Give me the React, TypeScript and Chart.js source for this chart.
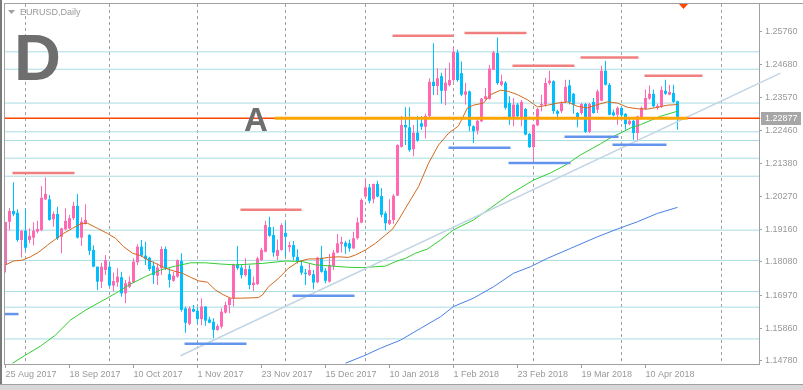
import React, { useEffect, useRef } from 'react';
import { Chart, registerables } from 'chart.js';

Chart.register(...registerables);

// ---------- data (EURUSD daily, bar index 0 = 25 Aug 2017) ----------
const OPEN = [
  1.1798, 1.1942, 1.1978, 1.1972, 1.1881, 1.1912, 1.1881, 1.1889, 1.1909, 1.1914,
  1.2017, 1.2017, 1.1950, 1.1968, 1.1892, 1.1917, 1.1920, 1.1954, 1.1995, 1.1889,
  1.1935, 1.1898, 1.1848, 1.1792, 1.1742, 1.1781, 1.1792, 1.1729, 1.1740, 1.1757,
  1.1703, 1.1725, 1.1740, 1.1807, 1.1859, 1.1829, 1.1822, 1.1795, 1.1762, 1.1787,
  1.1851, 1.1767, 1.1745, 1.1759, 1.1811, 1.1653, 1.1601, 1.1651, 1.1645, 1.1617,
  1.1659, 1.1616, 1.1608, 1.1581, 1.1592, 1.1639, 1.1664, 1.1687, 1.1800, 1.1789,
  1.1764, 1.1784, 1.1731, 1.1734, 1.1814, 1.1842, 1.1924, 1.1898, 1.1828, 1.1848,
  1.1905, 1.1857, 1.1864, 1.1825, 1.1795, 1.1772, 1.1764, 1.1767, 1.1740, 1.1822,
  1.1779, 1.1742, 1.1794, 1.1839, 1.1868, 1.1872, 1.1870, 1.1853, 1.1887, 1.1939,
  1.2026, 1.2057, 1.2017, 1.2068, 1.2028, 1.1970, 1.1935, 1.1948, 1.2029, 1.2192,
  1.2265, 1.2257, 1.2184, 1.2239, 1.2271, 1.2259, 1.2295, 1.2409, 1.2395, 1.2428,
  1.2379, 1.2398, 1.2415, 1.2507, 1.2438, 1.2366, 1.2377, 1.2261, 1.2246, 1.2277,
  1.2352, 1.2352, 1.2449, 1.2505, 1.2399, 1.2406, 1.2338, 1.2291, 1.2333, 1.2286,
  1.2318, 1.2235, 1.2191, 1.2264, 1.2331, 1.2333, 1.2405, 1.2411, 1.2311, 1.2311,
  1.2342, 1.2397, 1.2369, 1.2305, 1.2305, 1.2335, 1.2242, 1.2342, 1.2316, 1.2346,
  1.2446, 1.2399, 1.2307, 1.2299, 1.2322, 1.2302, 1.2268, 1.2279, 1.2238, 1.2288,
  1.2318, 1.2353, 1.2369, 1.2322, 1.2327, 1.2379, 1.2366, 1.2372, 1.2344,
];
const HIGH = [
  1.1942, 1.1987, 1.2074, 1.1984, 1.1914, 1.1984, 1.1920, 1.1940, 1.1945, 1.2061,
  1.2090, 1.2031, 1.1976, 1.1992, 1.1922, 1.1987, 1.1965, 1.2009, 1.2035, 1.1956,
  1.2000, 1.1900, 1.1864, 1.1793, 1.1804, 1.1831, 1.1809, 1.1773, 1.1787, 1.1775,
  1.1748, 1.1759, 1.1820, 1.1867, 1.1881, 1.1875, 1.1825, 1.1809, 1.1803, 1.1859,
  1.1859, 1.1787, 1.1775, 1.1816, 1.1837, 1.1659, 1.1659, 1.1664, 1.1657, 1.1687,
  1.1660, 1.1625, 1.1620, 1.1600, 1.1653, 1.1675, 1.1689, 1.1802, 1.1861, 1.1800,
  1.1820, 1.1798, 1.1759, 1.1825, 1.1855, 1.1945, 1.1959, 1.1925, 1.1883, 1.1937,
  1.1942, 1.1875, 1.1878, 1.1850, 1.1814, 1.1784, 1.1803, 1.1781, 1.1825, 1.1861,
  1.1787, 1.1834, 1.1848, 1.1901, 1.1892, 1.1879, 1.1883, 1.1909, 1.1956, 1.2020,
  1.2084, 1.2068, 1.2070, 1.2079, 1.2054, 1.1976, 1.2017, 1.2034, 1.2201, 1.2295,
  1.2324, 1.2324, 1.2265, 1.2295, 1.2295, 1.2302, 1.2421, 1.2538, 1.2454, 1.2439,
  1.2454, 1.2473, 1.2526, 1.2517, 1.2477, 1.2405, 1.2380, 1.2263, 1.2288, 1.2355,
  1.2388, 1.2466, 1.2513, 1.2557, 1.2433, 1.2411, 1.2361, 1.2355, 1.2338, 1.2349,
  1.2322, 1.2238, 1.2268, 1.2322, 1.2366, 1.2422, 1.2446, 1.2414, 1.2316, 1.2344,
  1.2416, 1.2416, 1.2372, 1.2308, 1.2338, 1.2338, 1.2338, 1.2355, 1.2383, 1.2463,
  1.2479, 1.2405, 1.2316, 1.2327, 1.2327, 1.2305, 1.2288, 1.2283, 1.2296, 1.2327,
  1.2383, 1.2397, 1.2383, 1.2335, 1.2394, 1.2416, 1.2399, 1.2399, 1.2346,
];
const LOW = [
  1.1773, 1.1914, 1.1960, 1.1875, 1.1822, 1.1845, 1.1870, 1.1864, 1.1904, 1.1910,
  1.2015, 1.1945, 1.1925, 1.1881, 1.1837, 1.1914, 1.1918, 1.1948, 1.1886, 1.1861,
  1.1933, 1.1831, 1.1790, 1.1714, 1.1721, 1.1764, 1.1725, 1.1709, 1.1725, 1.1692,
  1.1670, 1.1720, 1.1737, 1.1798, 1.1825, 1.1798, 1.1778, 1.1734, 1.1731, 1.1764,
  1.1781, 1.1723, 1.1742, 1.1755, 1.1642, 1.1572, 1.1597, 1.1640, 1.1601, 1.1597,
  1.1595, 1.1603, 1.1553, 1.1578, 1.1586, 1.1636, 1.1637, 1.1659, 1.1781, 1.1753,
  1.1759, 1.1717, 1.1712, 1.1731, 1.1812, 1.1840, 1.1892, 1.1825, 1.1814, 1.1845,
  1.1825, 1.1842, 1.1814, 1.1803, 1.1764, 1.1731, 1.1761, 1.1717, 1.1737, 1.1772,
  1.1737, 1.1739, 1.1781, 1.1837, 1.1839, 1.1834, 1.1842, 1.1851, 1.1883, 1.1937,
  1.2020, 1.2004, 1.2004, 1.2024, 1.1957, 1.1914, 1.1931, 1.1935, 1.2028, 1.2190,
  1.2198, 1.2176, 1.2161, 1.2209, 1.2248, 1.2220, 1.2287, 1.2365, 1.2365, 1.2337,
  1.2332, 1.2393, 1.2409, 1.2409, 1.2361, 1.2333, 1.2244, 1.2205, 1.2233, 1.2275,
  1.2349, 1.2349, 1.2448, 1.2399, 1.2394, 1.2317, 1.2266, 1.2261, 1.2288, 1.2261,
  1.2231, 1.2188, 1.2144, 1.2261, 1.2311, 1.2327, 1.2399, 1.2302, 1.2283, 1.2305,
  1.2338, 1.2333, 1.2302, 1.2257, 1.2299, 1.2238, 1.2238, 1.2302, 1.2305, 1.2344,
  1.2397, 1.2297, 1.2294, 1.2266, 1.2288, 1.2249, 1.2264, 1.2216, 1.2210, 1.2283,
  1.2316, 1.2349, 1.2324, 1.2316, 1.2322, 1.2366, 1.2364, 1.2338, 1.2249,
];
const CLOSE = [
  1.1941, 1.1978, 1.1967, 1.1881, 1.1912, 1.1855, 1.1895, 1.1912, 1.1918, 1.2022,
  1.2035, 1.1948, 1.1968, 1.1887, 1.1920, 1.1945, 1.1954, 1.1995, 1.1889, 1.1942,
  1.1948, 1.1845, 1.1792, 1.1742, 1.1792, 1.1814, 1.1729, 1.1744, 1.1759, 1.1703,
  1.1737, 1.1742, 1.1809, 1.1859, 1.1829, 1.1818, 1.1784, 1.1764, 1.1789, 1.1851,
  1.1787, 1.1748, 1.1762, 1.1814, 1.1648, 1.1605, 1.1653, 1.1642, 1.1617, 1.1659,
  1.1612, 1.1605, 1.1581, 1.1594, 1.1642, 1.1664, 1.1687, 1.1800, 1.1787, 1.1764,
  1.1784, 1.1731, 1.1739, 1.1820, 1.1848, 1.1931, 1.1895, 1.1839, 1.1848, 1.1931,
  1.1892, 1.1864, 1.1825, 1.1809, 1.1772, 1.1768, 1.1781, 1.1739, 1.1822, 1.1775,
  1.1745, 1.1798, 1.1839, 1.1870, 1.1875, 1.1859, 1.1853, 1.1887, 1.1940, 1.2015,
  1.2057, 1.2012, 1.2068, 1.2026, 1.1965, 1.1937, 1.1948, 1.2029, 1.2198, 1.2265,
  1.2257, 1.2181, 1.2239, 1.2213, 1.2259, 1.2295, 1.2409, 1.2395, 1.2421, 1.2379,
  1.2406, 1.2415, 1.2509, 1.2415, 1.2366, 1.2377, 1.2261, 1.2244, 1.2279, 1.2353,
  1.2361, 1.2453, 1.2507, 1.2405, 1.2411, 1.2322, 1.2288, 1.2333, 1.2294, 1.2342,
  1.2233, 1.2191, 1.2266, 1.2318, 1.2335, 1.2405, 1.2413, 1.2311, 1.2302, 1.2337,
  1.2392, 1.2342, 1.2333, 1.2288, 1.2335, 1.2242, 1.2335, 1.2305, 1.2377, 1.2446,
  1.2399, 1.2299, 1.2297, 1.2322, 1.2297, 1.2268, 1.2279, 1.2238, 1.2294, 1.2322,
  1.2355, 1.2369, 1.2327, 1.2329, 1.2382, 1.2369, 1.2375, 1.2342, 1.2288,
];

// moving averages: [bar index, price]
const MA_FAST: [number, number][] = [
  [0, 1.1798], [2, 1.1811], [4.25, 1.1814], [6.25, 1.1825], [8.25, 1.184], [10.5, 1.1864],
  [12.5, 1.1884], [14.5, 1.1903], [16.75, 1.192], [18.75, 1.1935], [20.5, 1.1937], [23, 1.192],
  [25.5, 1.1903], [27.5, 1.1887], [29.5, 1.1859], [31.75, 1.1837], [33.75, 1.1829], [35.75, 1.1814],
  [38, 1.18], [40, 1.1787], [42, 1.1778], [44.25, 1.177], [46.25, 1.1757], [48.25, 1.1745],
  [50.5, 1.174], [52.5, 1.1714], [54.5, 1.1698], [56.25, 1.1687], [58.75, 1.1687], [61.25, 1.1688],
  [63.25, 1.1689], [64.25, 1.1698], [65.75, 1.1725], [68.25, 1.1753], [70.75, 1.1787], [73.25, 1.1809],
  [75.75, 1.1818], [78.25, 1.1818], [80.75, 1.1823], [83.25, 1.1825], [85.75, 1.1823], [87.5, 1.1831],
  [90, 1.1848], [92.5, 1.187], [95, 1.1898], [96.75, 1.1917], [98.25, 1.1948], [100.75, 1.2004],
  [103.25, 1.2059], [105.75, 1.2137], [108.25, 1.2198], [110.75, 1.2237], [113.25, 1.2262], [115.5, 1.2322],
  [117, 1.2331], [119.5, 1.2338], [121.25, 1.2366], [123.75, 1.2381], [125.75, 1.2377], [128, 1.2366],
  [130.5, 1.2349], [133, 1.2325], [135.5, 1.2331], [138, 1.2338], [140.5, 1.2342], [143, 1.2327],
  [145.5, 1.2322], [148, 1.2333], [150.5, 1.2342], [153, 1.2338], [155.5, 1.2324], [158, 1.2319],
  [160.5, 1.2318], [163, 1.2324], [165.5, 1.2331], [168, 1.2333],
];
const MA_MID: [number, number][] = [
  [1.75, 1.147], [5, 1.1497], [8.75, 1.1527], [12.5, 1.1564], [16.25, 1.1614], [20, 1.1647],
  [23.75, 1.1675], [27.5, 1.1703], [31.25, 1.1734], [35, 1.1759], [38.75, 1.1781], [42.5, 1.1794],
  [46.25, 1.1805], [50, 1.1805], [53.75, 1.1801], [57.5, 1.1798], [64.25, 1.1803], [70, 1.1811],
  [74.25, 1.1809], [77.5, 1.1798], [81.75, 1.1794], [85.75, 1.179], [89.25, 1.1789], [92.5, 1.1792],
  [95, 1.1794], [97.5, 1.1809], [100, 1.182], [102.5, 1.1837], [105.5, 1.1851], [108.75, 1.1881],
  [112, 1.1915], [117, 1.1948], [121.25, 1.1988], [126.25, 1.2035], [132, 1.2081], [136.25, 1.2105],
  [140, 1.2131], [143.75, 1.2165], [148.75, 1.2202], [151.25, 1.2222], [153.75, 1.2238], [156.25, 1.2255],
  [158.75, 1.2266], [163.75, 1.2294], [168, 1.2311],
];
const MA_SLOW: [number, number][] = [
  [85, 1.147], [89.5, 1.1494], [93.75, 1.152], [98.75, 1.1547], [103.75, 1.1586], [108.75, 1.1625],
  [112, 1.1659], [117, 1.1687], [122, 1.1725], [127, 1.177], [131.25, 1.1792], [135.5, 1.182],
  [141.25, 1.1853], [148, 1.1892], [153, 1.1918], [158, 1.1942], [163, 1.197], [168, 1.199],
];

// drawn objects
const TREND_LINE: [number, number][] = [[43.75, 1.1495], [193.75, 1.2438]];
const H_LEVELS = [1.2509, 1.2451, 1.2338, 1.2242, 1.2213, 1.2154, 1.2094, 1.1914, 1.1813, 1.1709, 1.1657, 1.1551];
// [from bar, to bar, price]
const RESISTANCE: [number, number, number][] = [
  [1.75, 17.25, 1.2105], [58.75, 74, 1.1982], [96.75, 112, 1.2563], [114.75, 130.25, 1.2572],
  [126.75, 142.25, 1.2463], [143.75, 158.25, 1.249], [159.75, 174.25, 1.2429],
];
const SUPPORT: [number, number, number][] = [
  [-0.5, 3.25, 1.1634], [44.75, 60.25, 1.1535], [71.75, 87.25, 1.1695], [110.75, 126.25, 1.2189],
  [125.75, 141.25, 1.2138], [139.75, 153.25, 1.2226], [151.75, 165.25, 1.2199],
];
const ORANGE_SEGMENT: [number, number, number] = [67.25, 170.5, 1.2287];
const LAST_PRICE = 1.22877;
const ARROW_IDX = 169.5;
const A_MARK = { idx: 59.6, price: 1.2245 };

const DATE_IDX = [0, 16, 32, 48, 64, 80, 96, 112, 128, 144, 160];
const DATE_LABELS = [
  '25 Aug 2017', '18 Sep 2017', '10 Oct 2017', '1 Nov 2017', '23 Nov 2017', '15 Dec 2017',
  '10 Jan 2018', '1 Feb 2018', '23 Feb 2018', '19 Mar 2018', '10 Apr 2018',
];
const MONTH_IDX = [5, 26, 48, 70, 90, 112, 132, 154, 179];
const PRICE_TICKS = [1.1478, 1.1586, 1.1697, 1.1808, 1.1916, 1.2027, 1.2138, 1.2246, 1.2357, 1.2468, 1.2576];

// ---------- scale ranges / styles ----------
const X_MIN = -0.375;
const X_MAX = 188.375;
const Y_MIN = 1.14673;
const Y_MAX = 1.2672;

const BULL = '#ff69b4';
const BEAR = '#00bfff';
const GRAY = '#a0a0a0';
const TEXT = '#999999';
const FONT = '"Liberation Sans", Arial, sans-serif';

const seg = (x0: number, x1: number, y: number) => [{ x: x0, y }, { x: x1, y }];
const pts = (arr: [number, number][]) => arr.map(([x, y]) => ({ x, y }));

export default function App() {
  const ref = useRef<HTMLCanvasElement>(null);

  useEffect(() => {
    const canvas = ref.current;
    if (!canvas) return;
    const idx = OPEN.map((_, i) => i);
    const colors = OPEN.map((o, i) => (CLOSE[i] >= o ? BULL : BEAR));

    const lineBase = { type: 'line', pointRadius: 0, tension: 0, fill: false };
    const datasets: any[] = [];
    H_LEVELS.forEach((p) =>
      datasets.push({ ...lineBase, data: seg(X_MIN - 1, X_MAX + 1, p), borderColor: '#a8dce2', borderWidth: 1, order: 100 })
    );
    datasets.push({
      type: 'bar', data: idx.map((i) => ({ x: i, y: [LOW[i], HIGH[i]] })),
      backgroundColor: colors, barThickness: 1, grouped: false, inflateAmount: 0, order: 60,
    });
    datasets.push({
      type: 'bar', data: idx.map((i) => ({ x: i, y: [OPEN[i], CLOSE[i]] })),
      backgroundColor: colors, barThickness: 3, grouped: false, inflateAmount: 0, minBarLength: 1, order: 59,
    });
    datasets.push({ ...lineBase, data: pts(MA_SLOW), borderColor: '#4a7fe6', borderWidth: 1, order: 42 });
    datasets.push({ ...lineBase, data: pts(MA_MID), borderColor: '#32cd32', borderWidth: 1, order: 41 });
    datasets.push({ ...lineBase, data: pts(MA_FAST), borderColor: '#d2691e', borderWidth: 1, order: 40 });
    datasets.push({ ...lineBase, data: pts(TREND_LINE), borderColor: '#c3d5e4', borderWidth: 1.6, clip: false, order: 30 });
    RESISTANCE.forEach(([a, b, p]) =>
      datasets.push({ ...lineBase, data: seg(a, b, p), borderColor: '#f08080', borderWidth: 2.5, order: 20 })
    );
    SUPPORT.forEach(([a, b, p]) =>
      datasets.push({ ...lineBase, data: seg(a, b, p), borderColor: '#6495ed', borderWidth: 2.5, order: 20 })
    );
    datasets.push({ ...lineBase, data: seg(X_MIN - 1, X_MAX + 0.3, LAST_PRICE), borderColor: '#ff4500', borderWidth: 1.5, clip: { left: 0, top: 0, bottom: 0, right: 2 }, order: 11 });
    datasets.push({ ...lineBase, data: seg(ORANGE_SEGMENT[0], ORANGE_SEGMENT[1], ORANGE_SEGMENT[2]), borderColor: '#ffa500', borderWidth: 3, order: 10 });

    const deco = {
      id: 'deco',
      beforeDraw(c: any) {
        const ctx = c.ctx;
        ctx.save();
        ctx.fillStyle = '#ffffff';
        ctx.fillRect(0, 0, c.width, c.height);
        ctx.restore();
      },
      beforeDatasetsDraw(c: any) {
        const ctx = c.ctx;
        const xs = c.scales.x;
        const { top, bottom, left, right } = c.chartArea;
        ctx.save();
        ctx.strokeStyle = GRAY;
        ctx.lineWidth = 1;
        ctx.setLineDash([3, 3]);
        MONTH_IDX.forEach((m) => {
          const px = Math.round(xs.getPixelForValue(m) - 0.5) + 0.5;
          if (px < left || px > right) return;
          ctx.beginPath();
          ctx.moveTo(px, top + 1);
          ctx.lineTo(px, bottom);
          ctx.stroke();
        });
        ctx.restore();
      },
      afterDatasetsDraw(c: any) {
        const ctx = c.ctx;
        const xs = c.scales.x;
        const ys = c.scales.y;
        ctx.save();
        ctx.fillStyle = '#6e6e6e';
        ctx.font = `bold 33px ${FONT}`;
        ctx.textBaseline = 'alphabetic';
        ctx.fillText('A', xs.getPixelForValue(A_MARK.idx), ys.getPixelForValue(A_MARK.price));
        ctx.restore();
      },
      afterDraw(c: any) {
        const ctx = c.ctx;
        const xs = c.scales.x;
        const ys = c.scales.y;
        const W = c.width;
        ctx.save();
        // frame
        ctx.fillStyle = GRAY;
        ctx.fillRect(4, 3, W - 4, 1);
        ctx.fillRect(4, 3, 1, 362);
        ctx.fillStyle = '#7a7a7a';
        ctx.fillRect(0, 0, 2, 384);
        ctx.fillStyle = '#d8d8d8';
        ctx.fillRect(0, 384, W, 6);
        ctx.fillStyle = GRAY;
        ctx.fillRect(0, 384, W, 1);
        // title
        ctx.fillStyle = '#a0a0a0';
        ctx.beginPath();
        ctx.moveTo(8, 10);
        ctx.lineTo(15, 10);
        ctx.lineTo(11.5, 14);
        ctx.closePath();
        ctx.fill();
        ctx.fillStyle = TEXT;
        ctx.font = `9px ${FONT}`;
        ctx.textBaseline = 'alphabetic';
        ctx.fillText('EURUSD,Daily', 20, 15);
        // big D
        ctx.fillStyle = '#6e6e6e';
        ctx.font = `bold 65px ${FONT}`;
        ctx.fillText('D', 14, 80);
        // arrow
        const ax = xs.getPixelForValue(ARROW_IDX);
        ctx.fillStyle = '#ff4500';
        ctx.beginPath();
        ctx.moveTo(ax - 4.5, 4);
        ctx.lineTo(ax + 4.5, 4);
        ctx.lineTo(ax, 9);
        ctx.closePath();
        ctx.fill();
        // price label
        const py = ys.getPixelForValue(LAST_PRICE);
        ctx.fillStyle = '#a6a6a6';
        ctx.fillRect(761, Math.round(py) - 6, 40, 13);
        ctx.fillStyle = '#ffffff';
        ctx.font = `9px ${FONT}`;
        ctx.textBaseline = 'middle';
        ctx.fillText(LAST_PRICE.toFixed(5), 765, Math.round(py) + 0.5);
        ctx.restore();
      },
    };

    const chart = new Chart(canvas, {
      type: 'bar',
      data: { datasets },
      options: {
        responsive: false,
        animation: false,
        events: [],
        layout: { padding: { left: 4, top: 3, right: 0, bottom: 0 }, autoPadding: false },
        plugins: { legend: { display: false }, tooltip: { enabled: false } },
        scales: {
          x: {
            type: 'linear', min: X_MIN, max: X_MAX, offset: false, bounds: 'data',
            afterBuildTicks: (s: any) => { s.ticks = DATE_IDX.map((v) => ({ value: v })); },
            afterFit: (s: any) => { s.height = 26; s.paddingLeft = 0; s.paddingRight = 0; },
            ticks: {
              autoSkip: false, maxRotation: 0, minRotation: 0, align: 'start', padding: 1,
              color: TEXT, font: { family: FONT, size: 9 },
              callback: (v: any) => { const i = DATE_IDX.indexOf(Number(v)); return i >= 0 ? DATE_LABELS[i] : ''; },
            },
            grid: { drawOnChartArea: false, drawTicks: true, tickLength: 4, color: GRAY, offset: false },
            border: { color: GRAY },
          },
          y: {
            type: 'linear', position: 'right', min: Y_MIN, max: Y_MAX, bounds: 'data', beginAtZero: false,
            afterBuildTicks: (s: any) => { s.ticks = PRICE_TICKS.map((v) => ({ value: v })); },
            afterFit: (s: any) => { s.width = 44; s.paddingTop = 0; s.paddingBottom = 0; },
            ticks: {
              padding: 3, color: TEXT, font: { family: FONT, size: 9 },
              callback: (v: any) => Number(v).toFixed(5),
            },
            grid: { drawOnChartArea: false, drawTicks: true, tickLength: 3, color: GRAY },
            border: { color: GRAY },
          },
        },
      } as any,
      plugins: [deco],
    } as any);

    return () => chart.destroy();
  }, []);

  return (
    <div style={{ position: 'fixed', left: 0, top: 0, width: 803, height: 390, background: '#fff' }}>
      <canvas ref={ref} width={803} height={390} style={{ display: 'block', width: 803, height: 390 }} />
    </div>
  );
}
